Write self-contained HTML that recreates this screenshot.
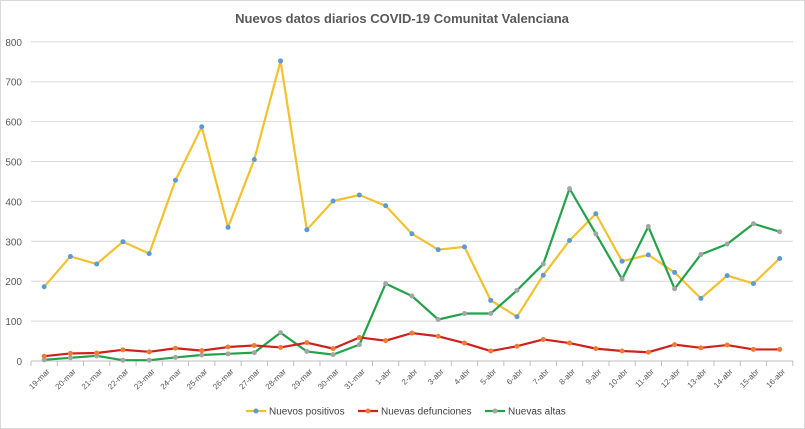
<!DOCTYPE html><html><head><style>body{margin:0;background:#fff}svg{display:block;font-family:"Liberation Sans",sans-serif}</style></head><body>
<svg id="s" width="805" height="429" xmlns="http://www.w3.org/2000/svg">
<rect x="0.5" y="0.5" width="804" height="428" fill="#fff" stroke="#d9d9d9"/>
<text x="402" y="23" text-anchor="middle" font-size="13" font-weight="bold" fill="#595959">Nuevos datos diarios COVID-19 Comunitat Valenciana</text>
<g id="g"></g>
</svg>
<script>
const P=[186,262,243,299,269,453,587,335,505,752,329,401,416,389,319,279,286,152,111,215,302,369,250,266,222,157,214,194,257];
const D=[12,19,20,28,23,32,26,35,39,34,46,31,59,51,70,62,45,25,37,54,45,31,25,22,41,33,40,29,29];
const A=[3,8,13,2,2,9,15,18,21,71,24,16,41,194,163,104,119,119,177,243,432,319,205,337,181,267,293,344,324];
const L=[];for(let i=19;i<=31;i++)L.push(i+'-mar');for(let i=1;i<=16;i++)L.push(i+'-abr');
const X=i=>31+26.27*(i+.5),Y=v=>361-v*0.399;
let h='';
for(let v=100;v<=800;v+=100)h+=`<line x1="31" x2="793" y1="${Y(v)}" y2="${Y(v)}" stroke="#d9d9d9"/>`;
for(let v=0;v<=800;v+=100)h+=`<text x="22" y="${Y(v)+4}" text-anchor="end" font-size="10" fill="#595959">${v}</text>`;
h+=`<line x1="31" x2="793" y1="361" y2="361" stroke="#bfbfbf"/>`;
for(let i=0;i<=29;i++){let x=31+26.27*i;h+=`<line x1="${x}" x2="${x}" y1="361" y2="366" stroke="#bfbfbf"/>`}
L.forEach((l,i)=>{h+=`<text transform="translate(${X(i)+6},372) rotate(-45)" text-anchor="end" font-size="8" fill="#595959">${l}</text>`});
function s(d,c,m){h+=`<polyline fill="none" stroke="${c}" stroke-width="2.2" stroke-linejoin="round" points="${d.map((v,i)=>X(i)+','+Y(v)).join(' ')}"/>`;d.forEach((v,i)=>h+=`<circle cx="${X(i)}" cy="${Y(v)}" r="2.5" fill="${m}"/>`)}
s(P,'#f2c12e','#5b9bd5');s(A,'#22a24a','#a5a5a5');s(D,'#d0201c','#ed7d31');
function lg(x,c,m,t){h+=`<line x1="${x}" x2="${x+20}" y1="411" y2="411" stroke="${c}" stroke-width="2.2"/><circle cx="${x+10}" cy="411" r="2.5" fill="${m}"/><text x="${x+23}" y="414.5" font-size="10" fill="#404040">${t}</text>`}
lg(246,'#f2c12e','#5b9bd5','Nuevos positivos');lg(358,'#d0201c','#ed7d31','Nuevas defunciones');lg(485,'#22a24a','#a5a5a5','Nuevas altas');
document.getElementById('g').innerHTML=h;
</script></body></html>
